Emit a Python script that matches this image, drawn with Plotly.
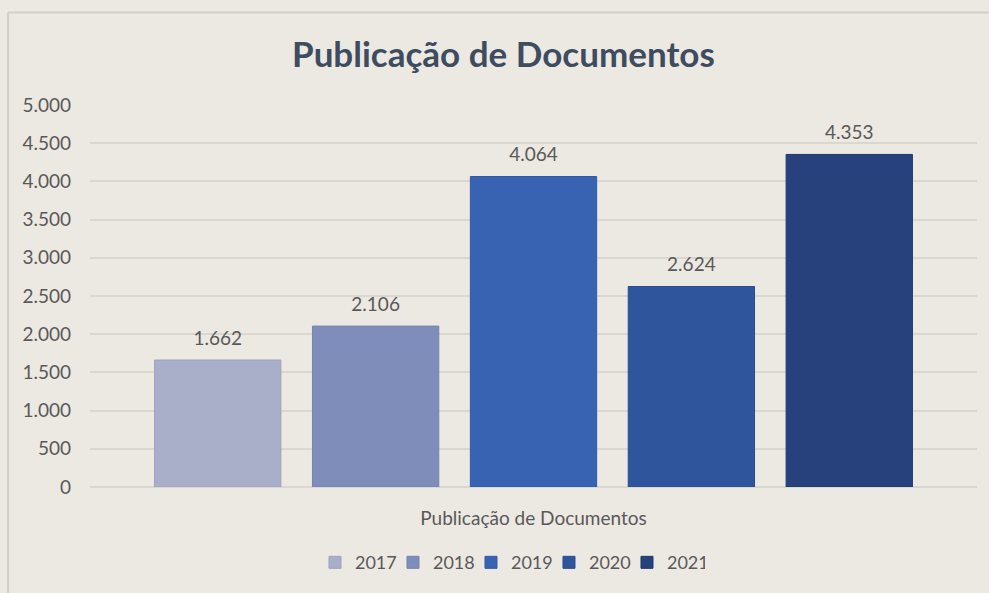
import plotly.graph_objects as go

category = ["Publicação de Documentos"]
years = ["2017", "2018", "2019", "2020", "2021"]
values = [1662, 2106, 4064, 2624, 4353]
colors = ["#A9AEC9", "#7F8DBA", "#3863B3", "#2F569C", "#27417C"]
line_colors = ["#9DA2BE", "#7483B0", "#2F5AA9", "#284C90", "#1F3870"]

fig = go.Figure()
for yr, v, c, lc in zip(years, values, colors, line_colors):
    fig.add_trace(go.Bar(
        name=yr, x=category, y=[v],
        marker=dict(color=c, line=dict(color=lc, width=1)),
        texttemplate="<span style='font-size:19px'>%{y:,.0f}</span><br><span style='font-size:8px'>\u00a0</span>",
        textposition="outside", cliponaxis=False,
        textfont=dict(family="Lato", size=8, color="#595959"),
        hoverinfo="skip",
    ))

bg = "#ECE8E2"
fig.update_layout(
    width=989, height=593,
    paper_bgcolor=bg, plot_bgcolor=bg,
    separators=",.",
    barmode="group", bargap=0.11, bargroupgap=0.2,
    margin=dict(l=90, r=12, t=105, b=104),
    title=dict(text="<b>Publicação de Documentos</b>", x=0.509, xanchor="center",
               y=1 - 55 / 593, yanchor="middle",
               font=dict(family="Lato", size=35, color="#3E4C60")),
    xaxis=dict(showgrid=False, showline=False, zeroline=False,
               tickfont=dict(family="Lato", size=19, color="#595959"),
               ticklabelstandoff=18),
    yaxis=dict(range=[0, 5000], dtick=500, tickformat=",.0f",
               showgrid=True, gridcolor="#DAD6D0", gridwidth=1.5,
               zeroline=True, zerolinecolor="#DAD6D0", zerolinewidth=1.5,
               showline=False, ticks="", ticklabelstandoff=18,
               tickfont=dict(family="Lato", size=19, color="#595959")),
    legend=dict(orientation="h", x=0.4735, xanchor="center", y=-0.198, yanchor="middle",
                font=dict(family="Lato", size=18, color="#595959"),
                bgcolor="rgba(0,0,0,0)", itemwidth=30, traceorder="normal",
                entrywidth=33, entrywidthmode="pixels"),
    showlegend=True,
    shapes=[
        dict(type="line", xref="paper", yref="paper", x0=-0.0924, x1=1.02, y0=1.242, y1=1.242,
             line=dict(color="#D2CEC8", width=2)),
        dict(type="line", xref="paper", yref="paper", x0=-0.0924, x1=-0.0924, y0=1.242, y1=-0.28,
             line=dict(color="#D2CEC8", width=2)),
    ],
)

fig.write_html(
    "out.html",
    config={"displayModeBar": False},
    post_script="document.body.style.margin='0';document.body.style.background='" + bg + "';",
)
